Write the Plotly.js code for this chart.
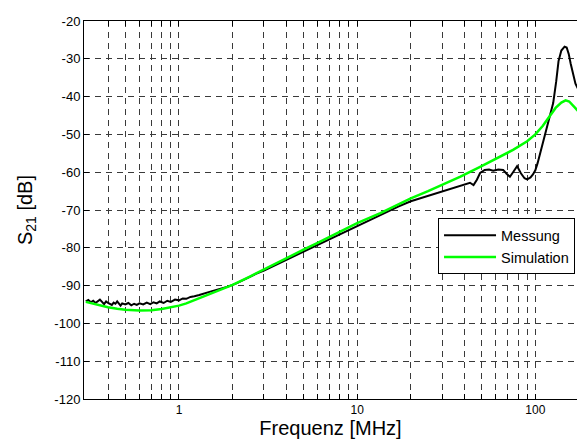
<!DOCTYPE html>
<html>
<head>
<meta charset="utf-8">
<script src="https://cdn.plot.ly/plotly-3.0.1.min.js"></script>
<style>
html,body{margin:0;padding:0;background:#fff;overflow:hidden;}
#chart{width:577px;height:444px;}
</style>
</head>
<body>
<div id="chart"></div>
<script>
// Messung (measurement), frequency in MHz, S21 in dB
var messFreq = [0.30,0.31,0.32,0.33,0.34,0.35,0.36,0.37,0.38,0.39,0.40,0.42,0.43,0.44,0.45,0.47,0.48,0.50,0.52,0.54,0.56,0.58,0.60,0.63,0.66,0.69,0.72,0.75,0.78,0.82,0.86,0.90,0.95,1.00,1.05,1.10,1.16,1.22,1.30,1.50,1.75,1.90,2.1,2.4,2.7,3.0,3.5,4.0,4.5,5.0,6.0,7.0,8.0,9.0,10,12,14,17,20,23,26,30,33,36,40,43,45,47,49,52,55,58,62,66,69,72,75,79,83,87,90,94,97,100,103,108,114,120,126,131,135,140,146,150,154,158,163,168,175];
var messDB = [-94.2,-93.8,-94.4,-94.0,-94.6,-94.1,-93.7,-94.3,-94.9,-94.2,-94.6,-95.1,-94.5,-94.8,-94.2,-95.3,-94.7,-95.0,-94.6,-95.2,-94.8,-95.1,-94.7,-95.0,-94.5,-94.9,-94.4,-94.7,-94.2,-94.6,-94.0,-94.3,-93.7,-93.9,-93.4,-93.5,-93.0,-92.8,-92.5,-91.6,-90.7,-90.2,-89.4,-88.0,-86.9,-86.0,-84.5,-83.1,-82.0,-80.9,-79.2,-77.6,-76.4,-75.2,-74.1,-72.4,-70.9,-69.1,-67.7,-66.8,-66.1,-65.2,-64.6,-64.0,-63.3,-62.8,-63.4,-62.0,-60.2,-59.4,-59.3,-59.6,-59.3,-59.4,-60.4,-61.2,-60.0,-58.4,-60.3,-61.6,-61.9,-61.4,-60.6,-59.5,-57.6,-54.0,-49.6,-45.5,-41.7,-36.0,-30.6,-27.8,-26.8,-27.0,-28.7,-31.3,-34.5,-36.6,-38.2];

// Simulation
var simFreq = [0.30,0.35,0.40,0.45,0.50,0.60,0.70,0.80,0.90,1.0,1.1,1.2,1.35,1.5,1.75,2.0,2.5,3.0,4.0,5.0,6.0,7.0,8.0,10,13.5,17.5,20,25,30,38,49,60,75,90,100,110,121,130,140,148,155,162,170,175];
var simDB = [-94.3,-95.1,-95.7,-96.1,-96.4,-96.6,-96.5,-96.2,-95.8,-95.3,-94.7,-94.0,-93.0,-92.1,-90.9,-89.8,-87.6,-85.7,-82.8,-80.5,-78.7,-77.1,-75.8,-73.5,-70.8,-68.2,-66.9,-65.0,-63.4,-61.2,-58.6,-56.5,-54.1,-51.8,-50.0,-47.8,-45.0,-43.0,-41.6,-41.0,-41.3,-42.2,-43.4,-44.0];

var majorX = [1, 10, 100];
var majorXLabels = ["1", "10", "100"];
var minorX = [0.4,0.5,0.6,0.7,0.8,0.9,2,3,4,5,6,7,8,9,20,30,40,50,60,70,80,90];
var yTicks = [-120,-110,-100,-90,-80,-70,-60,-50,-40,-30,-20];
var yTickLabels = ["-120","-110","-100","-90","-80","-70","-60","-50","-40","-30","-20"];

var FONT = "Liberation Sans, Arial, Helvetica, sans-serif";
var GRID = "#3a3a3a";
var DASH = "6px,5px";

var traces = [
  {x: messFreq, y: messDB, type: "scatter", mode: "lines", name: "Messung",
   line: {color: "#000000", width: 2}},
  {x: simFreq, y: simDB, type: "scatter", mode: "lines", name: "Simulation",
   line: {color: "#00ff00", width: 2.5}}
];

var layout = {
  width: 577, height: 444,
  margin: {l: 84, r: 0, t: 21, b: 45, pad: 0},
  paper_bgcolor: "#fff", plot_bgcolor: "#fff",
  font: {family: FONT, color: "#000", size: 12},
  showlegend: true,
  legend: {x: 0.996, xanchor: "right", y: 0.478, yanchor: "top",
           bgcolor: "#fff", bordercolor: "#000", borderwidth: 1,
           font: {family: FONT, size: 14.5, color: "#000"}, itemwidth: 52,
           tracegroupgap: 0},
  xaxis: {
    type: "log", range: [-0.533, 2.234],
    tickmode: "array", tickvals: majorX, ticktext: majorXLabels,
    ticks: "inside", ticklen: 5, tickcolor: "#000", tickwidth: 1,
    showline: true, linecolor: "#000", linewidth: 1, mirror: "allticks",
    showgrid: true, gridcolor: GRID, gridwidth: 1, griddash: DASH,
    zeroline: false,
    tickfont: {family: FONT, size: 12, color: "#000"},
    minor: {tickmode: "array", tickvals: minorX, ticks: "inside", ticklen: 5,
            tickcolor: "#000", showgrid: true, gridcolor: GRID, gridwidth: 1, griddash: DASH},
    title: {text: "Frequenz [MHz]", font: {family: FONT, size: 20, color: "#000"}, standoff: 4}
  },
  yaxis: {
    range: [-120, -20],
    tickmode: "array", tickvals: yTicks, ticktext: yTickLabels,
    ticks: "inside", ticklen: 5, tickcolor: "#000", tickwidth: 1,
    showline: true, linecolor: "#000", linewidth: 1, mirror: false,
    showgrid: true, gridcolor: GRID, gridwidth: 1, griddash: DASH,
    zeroline: false,
    tickfont: {family: FONT, size: 13, color: "#000"},
    title: {text: "S<sub>21</sub> [dB]", font: {family: FONT, size: 20, color: "#000"}, standoff: 16}
  }
};

Plotly.newPlot("chart", traces, layout, {displayModeBar: false, staticPlot: true});
</script>
</body>
</html>
